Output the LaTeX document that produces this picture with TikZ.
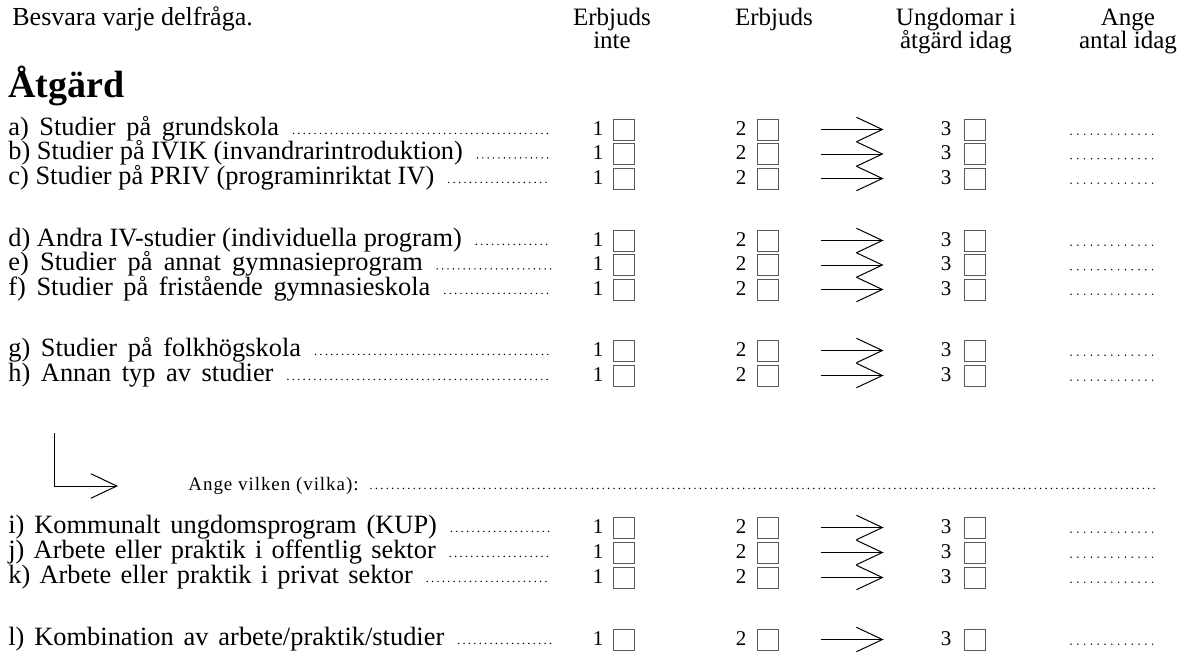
\documentclass[tikz,border=0pt]{standalone}
\usepackage{fontspec}
\setmainfont{Liberation Serif}
\newfontfamily\sparrad[LetterSpace=5]{Liberation Serif}
\usetikzlibrary{arrows.meta}

\tikzset{
  rubrik/.style={anchor=base, inner sep=0pt, font=\fontsize{12.5}{14}\selectfont},
  fraga/.style={anchor=base west, inner sep=0pt, font=\fontsize{13.2}{15}\selectfont},
  siffra/.style={anchor=base, inner sep=0pt, font=\fontsize{10.5}{12}\selectfont},
  ruta/.style={draw=black!65, line width=0.5pt, minimum width=10.5pt, minimum height=10.5pt, inner sep=0pt},
  pil/.style={-{Straight Barb[length=13pt,width=12.25pt]}, line width=0.5pt},
  punkter/.style={line width=0.8pt, line cap=round, dash pattern=on 0pt off 2.7pt},
  glesa/.style={line width=0.8pt, line cap=round, dash pattern=on 0pt off 3.4pt}
}
\newcommand{\gles}[1]{\spaceskip=#1\fontdimen2\font\relax}

\begin{document}
\begin{tikzpicture}[x=0.5pt,y=-0.5pt]
        % bakgrund
        \fill[white] (0,0) rectangle (1181,670);
        \coordinate (slut) at (551,0);
        % rubriker
        \node[rubrik, anchor=base west, font=\fontsize{13}{15}\selectfont] (besvara) at (12,25) {Besvara varje delfråga.};
        \node[rubrik] (erb1) at (612,25) {Erbjuds};
        \node[rubrik] (erb1b) at (612,48) {inte};
        \node[rubrik] (erb2) at (774,25) {Erbjuds};
        \node[rubrik] (ung) at (956,25) {Ungdomar i};
        \node[rubrik] (ungb) at (956,48) {åtgärd idag};
        \node[rubrik] (antal) at (1128,25) {Ange};
        \node[rubrik] (antalb) at (1128,48) {antal idag};
        \node[anchor=base west, inner sep=0pt, font=\bfseries\fontsize{19}{22}\selectfont] (atgard) at (8,97) {Åtgärd};
        % delfrågor
        \node[fraga] (fr-a) at (8,135) {\gles{1.6}a) Studier på grundskola};
        \node[fraga] (fr-b) at (8,159.5) {b) Studier på IVIK (invandrarintroduktion)};
        \node[fraga] (fr-c) at (8,184) {c) Studier på PRIV (programinriktat IV)};

        \node[fraga] (fr-d) at (8,246) {d) Andra IV-studier (individuella program)};
        \node[fraga] (fr-e) at (8,270.5) {\gles{1.7}e) Studier på annat gymnasieprogram};
        \node[fraga] (fr-f) at (8,295) {\gles{1.6}f) Studier på fristående gymnasieskola};

        \node[fraga] (fr-g) at (8,356) {\gles{1.6}g) Studier på folkhögskola};
        \node[fraga] (fr-h) at (8,381) {\gles{1.6}h) Annan typ av studier};

        \node[fraga] (fr-i) at (8,533) {\gles{1.5}i) Kommunalt ungdomsprogram (KUP)};
        \node[fraga] (fr-j) at (8,558) {\gles{1.4}j) Arbete eller praktik i offentlig sektor};
        \node[fraga] (fr-k) at (8,583) {\gles{1.4}k) Arbete eller praktik i privat sektor};

        \node[fraga] (fr-l) at (8,645) {\gles{1.5}l) Kombination av arbete/praktik/studier};
        % punktrader efter texten
        \foreach \r in {a,b,c,d,e,f,g,h,i,j,k,l}
          \draw[punkter] ([xshift=7pt,yshift=0.8pt]fr-\r.base east) -- ([yshift=0.8pt]fr-\r.base east -| slut);
        % svarsrutor och pilar
        \foreach \r/\b in {a/135, b/159.5, c/184, d/246, e/270.5, f/295, g/356, h/381, i/533, j/558, k/583, l/645} {
          \node[siffra] (n1-\r) at (598,\b) {1};
          \node[ruta] (r1-\r) at (624,\b-5.5) {};
          \node[siffra] (n2-\r) at (741,\b) {2};
          \node[ruta] (r2-\r) at (768,\b-5.5) {};
          \node[siffra] (n3-\r) at (946,\b) {3};
          \node[ruta] (r3-\r) at (975,\b-5.5) {};
          \draw[pil, shorten <=21pt, shorten >=28.4pt] (r2-\r.east) -- (r2-\r.east -| n3-\r.west);
          \draw[glesa] (1071,\b-0.8) -- (1154,\b-0.8);
        }
        % annan typ: ange vilken
        \coordinate (krok) at (54,433);
        \coordinate (krokpil) at (118,486);
        \draw[pil] (krok) |- (krokpil);
        \node[anchor=base west, inner sep=0pt, font=\fontsize{9.5}{11}\sparrad] (ange) at (188,490) {Ange vilken (vilka):};
        \draw[punkter] ([xshift=6pt,yshift=0.8pt]ange.base east) -- ([yshift=0.8pt]ange.base east -| 1155,0);
\end{tikzpicture}
\end{document}
